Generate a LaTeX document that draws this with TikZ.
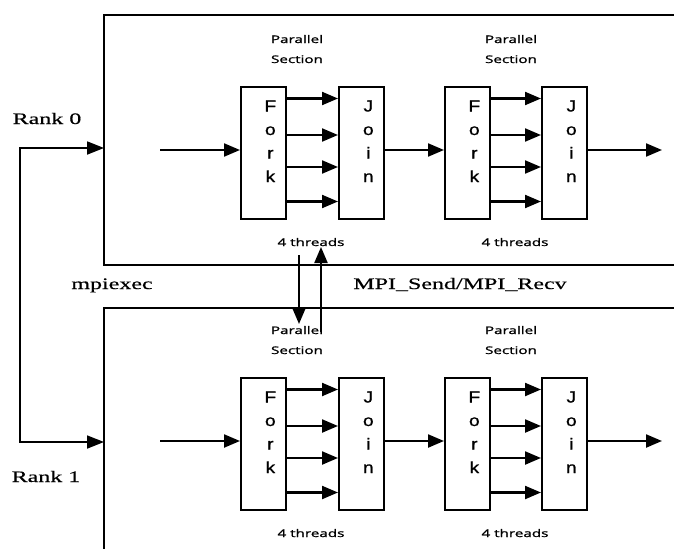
\documentclass[tikz,border=0pt]{standalone}
\usepackage{fontspec}
\newfontfamily\serifheavy[FakeBold=0.4]{Liberation Serif}
\newfontfamily\labelsans[FakeBold=1.0]{Open Sans}
\newfontfamily\lettersans[FakeBold=0.9]{Liberation Sans}
\usetikzlibrary{arrows.meta,calc}
\begin{document}
\begin{tikzpicture}[x=1pt,y=-1pt,
  fj/.style={draw, line width=1.7pt, minimum width=45pt, minimum height=132pt, inner sep=0pt, anchor=north west},
  arr/.style={line width=2.2pt, -{Triangle[length=16pt,width=13pt]}},
  thinarr/.style={line width=1.8pt, -{Triangle[length=17pt,width=13pt]}},
  frame/.style={line width=1.9pt},
  lt/.style={font=\lettersans\fontsize{16}{18}\selectfont, inner sep=0pt, anchor=base, xscale=1.2},
  serif/.style={font=\serifheavy\fontsize{16}{18}\selectfont, inner sep=0pt, anchor=base, xscale=1.5},
  small/.style={font=\labelsans\fontsize{10.5}{12}\selectfont, inner sep=0pt, anchor=base, xscale=1.45}]
\useasboundingbox (0,0) rectangle (674,549);
\fill[white] (0,0) rectangle (674,549);

% process frames (open to the right / bottom)
\draw[frame] (674,15) -- (104,15) -- (104,265) -- (674,265);
\draw[frame] (674,308) -- (104,308) -- (104,549);

% labels
\node[serif] (rank0) at (47,124) {Rank 0};
\node[serif] (rank1) at (46,482) {Rank 1};
\node[serif] (mpiexec) at (112,289) {mpiexec};
\node[serif] (mpisr) at (460,289) {MPI\_Send/MPI\_Recv};

% mpiexec launcher
\coordinate (split) at (20,295);
\coordinate (in0) at (104,148);
\coordinate (in1) at (104,442);
\draw[thinarr] (split) |- (in0);
\draw[thinarr] (split) |- (in1);

\foreach \r/\dy in {0/0,1/291}{
  \node[fj] (fa\r) at (240,86+\dy) {};
  \node[fj] (ja\r) at (338,86+\dy) {};
  \node[fj] (fb\r) at (444,86+\dy) {};
  \node[fj] (jb\r) at (541,86+\dy) {};
  \foreach \b in {fa,fb}{
    \foreach \l [count=\i from 0] in {F,o,r,k}
      \node[lt] (\b\r-\i) at ($(\b\r.north)+(7,25.5+23.5*\i)$) {\l};
  }
  \foreach \b in {ja,jb}{
    \foreach \l [count=\i from 0] in {J,o,i,n}
      \node[lt] (\b\r-\i) at ($(\b\r.north)+(7,25.5+23.5*\i)$) {\l};
  }
  \foreach \yy in {12.5,49,81,115.5}{
    \draw[arr] ($(fa\r.north east)+(0,\yy)$) -- ($(ja\r.north west)+(0,\yy)$);
    \draw[arr] ($(fb\r.north east)+(0,\yy)$) -- ($(jb\r.north west)+(0,\yy)$);
  }
  \coordinate (start\r) at (160,150+\dy);
  \coordinate (end\r) at (662,150+\dy);
  \draw[arr] (start\r) -- (start\r -| fa\r.west);
  \draw[arr] (ja\r.east |- start\r) -- (start\r -| fb\r.west);
  \draw[arr] (jb\r.east |- start\r) -- (end\r);
  \node[small] (pa\r) at (297,43+\dy) {Parallel};
  \node[small] (sa\r) at (297,63+\dy) {Section};
  \node[small] (pb\r) at (511,43+\dy) {Parallel};
  \node[small] (sb\r) at (511,63+\dy) {Section};
  \node[small] (ta\r) at (311,246+\dy) {4 threads};
  \node[small] (tb\r) at (515,246+\dy) {4 threads};
}

% MPI send / recv between ranks
\coordinate (sendtop) at (299,255);
\coordinate (sendbot) at (299,324);
\coordinate (recvbot) at (321,332);
\coordinate (recvtop) at (321,247);
\draw[arr] (sendtop) -- (sendbot);
\draw[arr] (recvbot) -- (recvtop);
\end{tikzpicture}
\end{document}
